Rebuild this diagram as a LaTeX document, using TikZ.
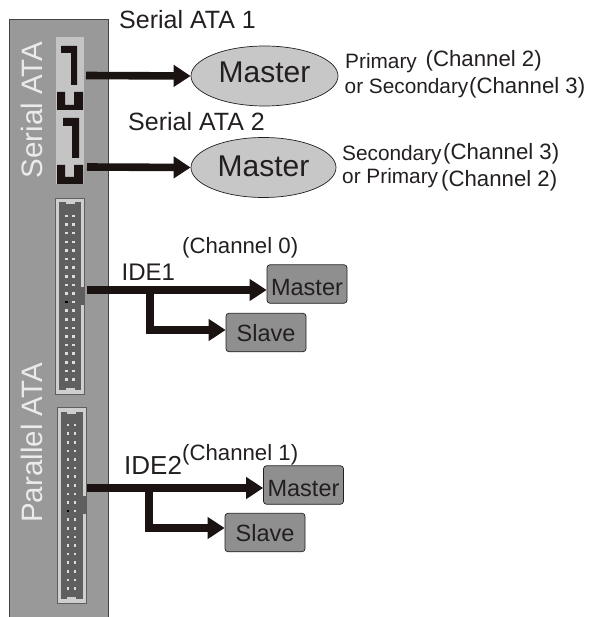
\documentclass[tikz,border=0pt]{standalone}
\usepackage{fontspec}
\setmainfont{Liberation Sans}
\usetikzlibrary{arrows.meta,shapes.geometric}
\definecolor{panelc}{HTML}{999999}
\definecolor{lightc}{HTML}{C4C4C4}
\definecolor{inkc}{HTML}{1A1311}
\definecolor{textc}{HTML}{231F20}
\definecolor{boxc}{HTML}{8F8F8F}
\definecolor{darkc}{HTML}{5F5F5F}
\definecolor{rimc}{HTML}{CFCFCF}
\definecolor{pinc}{HTML}{DDDDDD}
\tikzset{
  x=1pt,y=-1pt,
  wire/.style={draw=inkc,line width=7.6pt,-{Triangle[length=17pt,width=21pt]},shorten >=0pt},
  drive/.style={draw=textc,line width=.7pt,fill=boxc,rounded corners=3pt,minimum width=80pt,minimum height=38.5pt,inner sep=0pt,text=textc,text depth=0pt,font=\fontsize{23.5}{23.5}\selectfont},
  oval/.style={draw=textc,line width=.7pt,fill=lightc!95!white,ellipse,minimum width=147pt,minimum height=60pt,inner sep=0pt,text=textc,font=\fontsize{30}{30}\selectfont},
  lab/.style={anchor=base west,inner sep=0pt,text=textc},
  big/.style={lab,font=\fontsize{25}{25}\selectfont},
  mid/.style={lab,font=\fontsize{22.2}{22.2}\selectfont},
  small/.style={lab,font=\fontsize{20.8}{20.8}\selectfont},
  side/.style={anchor=base,rotate=90,inner sep=0pt,text=white!92!black,font=\fontsize{29.5}{29.5}\selectfont},
  ink/.style={fill=inkc,draw=none},
}
\newcommand{\idecon}[2]{%
  % #1 = left x of the shell, #2 = top y of the shell
  \fill[rimc,draw=darkc,line width=.8pt] (#1,#2) rectangle ++(29,196);
  \fill[darkc] (#1+3.5,#2+4.5) rectangle ++(22,187);
  \fill[darkc] (#1+25,#2+89) rectangle ++(4,18);
  \fill[rimc] (#1+10,#2+4.5) rectangle ++(9,2);
  \fill[rimc] (#1+10,#2+189.5) rectangle ++(9,2);
  \foreach \r in {0,...,19}{
    \fill[pinc] (#1+9.5,#2+16.8+\r*8.6) rectangle ++(2.5,2.5);
    \fill[pinc] (#1+16.5,#2+16.8+\r*8.6) rectangle ++(2.5,2.5);
  }
  \fill[black] (#1+9.5,#2+16.8+10*8.6) rectangle ++(2.5,2.5);
}
\begin{document}
\begin{tikzpicture}
\useasboundingbox (0,0) rectangle (590,617);
\fill[panelc] (9.5,19) rectangle (108.5,617);
\draw[darkc!70!black,line width=.8pt] (9.5,617) -- (9.5,19) -- (108.5,19) -- (108.5,617);
% serial connectors
\fill[lightc] (56,37) rectangle (84,184);
\fill[ink] (61,46) -- (77,46) -- (77,85) -- (71,85) -- (71,53) -- (61,53) -- cycle;
\fill[ink] (57,92) -- (65,92) -- (65,105) -- (74,105) -- (74,92) -- (83,92) -- (83,110) -- (57,110) -- cycle;
\fill[ink] (63,118) -- (79,118) -- (79,158) -- (72,158) -- (72,126) -- (63,126) -- cycle;
\fill[ink] (57,165) -- (65,165) -- (65,177) -- (74,177) -- (74,165) -- (83,165) -- (83,184) -- (57,184) -- cycle;
\idecon{55.5}{198}
\idecon{57}{407}
\node[side] (sideS) at (42,110) {Serial ATA};
\node[side] (sideP) at (42,443) {Parallel ATA};
% free ends
\coordinate (s1) at (86,75.5);
\coordinate (s2) at (87,167);
\coordinate (i1) at (87,290);
\coordinate (i2) at (87,488);
\coordinate (b1) at (150,290);
\coordinate (b2) at (149,488);
% receivers
\node[oval,text depth=7pt] (m1) at (264.5,76) {Master};
\node[oval,text depth=2.5pt,minimum width=145pt] (m2) at (263.5,167.5) {Master};
\node[drive,text height=22pt] (d1) at (307,284) {Master};
\node[drive,text height=18.4pt] (d2) at (266,332.5) {Slave};
\node[drive,text height=22pt] (d3) at (303.5,485) {Master};
\node[drive,text height=18.4pt] (d4) at (265,532.5) {Slave};
% connectors
\draw[wire] (s1) -- (m1.west);
\draw[wire] (s2) -- (m2.west);
\draw[wire] (i1) -- (i1 -| d1.west);
\draw[wire] (i2) -- (i2 -| d3.west);
\draw[wire] (b1) |- ([yshift=2.5pt]d2.west);
\draw[wire] (b2) |- ([yshift=4.5pt]d4.west);
% labels
\node[big] (t1) at (119,28.5) {Serial ATA 1};
\node[big] (t2) at (128,130.5) {Serial ATA 2};
\node[mid] (t3) at (425.5,67) {(Channel 2)};
\node[small] (t4) at (345,69) {Primary};
\node[small] (t5) at (344.5,94) {or Secondary};
\node[mid] (t6) at (469,94) {(Channel 3)};
\node[small] (t7) at (342,161) {Secondary};
\node[mid] (t8) at (443,160) {(Channel 3)};
\node[small] (t9) at (342,184) {or Primary};
\node[mid] (t10) at (441,187) {(Channel 2)};
\node[mid] (t11) at (182,253) {(Channel 0)};
\node[lab,font=\fontsize{24}{24}\selectfont] (t12) at (121.5,280) {IDE1};
\node[lab,font=\fontsize{26}{26}\selectfont] (t13) at (124,474) {IDE2};
\node[mid] (t14) at (182,460) {(Channel 1)};
\end{tikzpicture}
\end{document}
